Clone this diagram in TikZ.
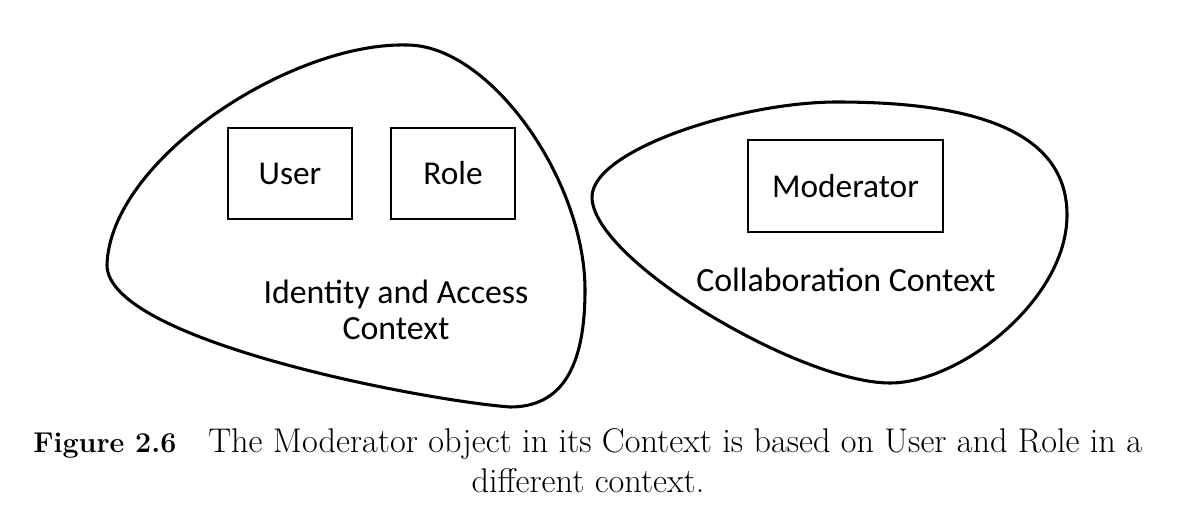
\documentclass[tikz,border=0pt]{standalone}
\usepackage{fontspec}
\newfontfamily\handfont{Carlito}
\begin{document}
\begin{tikzpicture}[x=0.75pt,y=-0.75pt,
  blob/.style={line width=2.3pt, line join=round},
  objbox/.style={draw, line width=2.2pt, minimum width=124*0.75pt, minimum height=91*0.75pt, inner sep=0pt, font=\handfont\fontsize{25}{29}\selectfont},
  ctxlabel/.style={align=center, font=\handfont\fontsize{25.4}{27}\selectfont, inner sep=0pt},
  captxt/.style={inner sep=0pt, font=\fontsize{25.7}{29}\selectfont}]
\useasboundingbox (0,0) rectangle (1178,524);
% left context blob
\draw[blob] (107,265)
  .. controls (110,160) and (290,42) .. (407,45)
  .. controls (490,45) and (585,180) .. (585,290)
  .. controls (585,370) and (560,407) .. (510,407)
  .. controls (420,400) and (107,340) .. cycle;
% right context blob
\draw[blob] (592,197)
  .. controls (592,150) and (740,102) .. (837,102)
  .. controls (960,102) and (1067,125) .. (1067,215)
  .. controls (1067,300) and (960,383) .. (890,383)
  .. controls (800,383) and (592,260) .. cycle;
% objects
\node[objbox] (user) at (290,173.5) {User};
\node[objbox] (role) at (453,173.5) {Role};
\node[objbox, minimum width=195*0.75pt, minimum height=92*0.75pt] (moderator) at (845.5,186) {Moderator};
% context labels
\node[ctxlabel] (iac) at (396,310) {Identity and Access\\Context};
\node[ctxlabel] (collab) at (846,280) {Collaboration Context};
% caption
\node[captxt, anchor=base west, font=\fontsize{21.5}{29}\selectfont\bfseries] (figno) at (33,452) {Figure 2.6};
\node[captxt, anchor=base west] (cap1) at (208,452) {The Moderator object in its Context is based on User and Role in a};
\node[captxt, anchor=base] (cap2) at (588,492) {different context.};
\end{tikzpicture}
\end{document}
